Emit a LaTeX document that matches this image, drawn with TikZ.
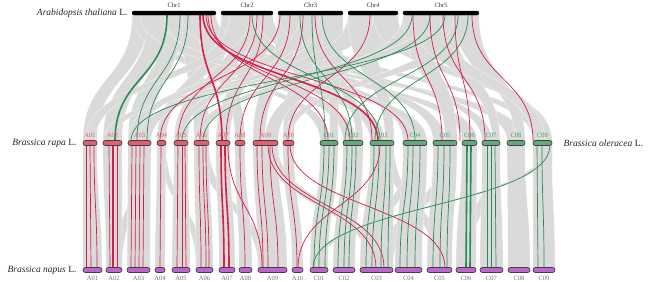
\documentclass[tikz,border=0pt]{standalone}
\usepackage{fontspec}
\setmainfont{Liberation Serif}
\definecolor{myred}{RGB}{214,30,72}
\definecolor{mygreen}{RGB}{40,140,85}
\definecolor{afill}{RGB}{226,96,110}
\definecolor{cfill}{RGB}{100,170,120}
\definecolor{nfill}{RGB}{190,100,205}
\definecolor{alab}{RGB}{225,90,105}
\definecolor{clab}{RGB}{70,155,95}
\definecolor{nlab}{RGB}{110,110,140}
\definecolor{ribgray}{RGB}{218,218,218}
\begin{document}
\begin{tikzpicture}[x=1pt,y=-1pt,
  ribbon/.style={fill=ribgray, draw=white, draw opacity=0.7, line width=0.35},
  redl/.style={draw=myred, line width=0.7},
  redt/.style={draw=myred, line width=1.6},
  grnl/.style={draw=mygreen, line width=0.7},
  grnt/.style={draw=mygreen, line width=1.6},
  topbar/.style={draw=black, fill=black, rounded corners=2},
  abar/.style={draw=black!75, fill=afill, line width=0.7, rounded corners=2.4},
  cbar/.style={draw=black!75, fill=cfill, line width=0.7, rounded corners=2.4},
  nbar/.style={draw=black!75, fill=nfill, line width=0.7, rounded corners=2.4},
  toplab/.style={font=\fontsize{6.5}{7}\selectfont, text=black!80},
  midlab/.style={font=\fontsize{6.5}{7}\selectfont},
  botlab/.style={font=\fontsize{6.5}{7}\selectfont, text=nlab},
  species/.style={font=\fontsize{9.5}{11}\selectfont\itshape, text=black!85}]
\useasboundingbox (0,0) rectangle (650,281);

% ---------- gray ribbons: Arabidopsis -> B. rapa / B. oleracea ----------
\foreach \a/\b/\c/\d in {
 132/148/83/97, 132/148/320/330, 148/165/103/122, 148/165/343/356,
 165/182/128/151, 165/182/370/385, 182/199/194/209, 182/199/462/477,
 199/216/235/245, 199/216/507/525,
 221/238/157/166, 221/238/403/415, 238/256/174/188, 238/256/433/445,
 256/273/216/230, 256/273/482/492,
 278/300/253/265, 278/300/533/545, 300/322/283/294, 300/322/356/363,
 322/343/174/182, 322/343/330/338,
 348/373/140/151, 348/373/385/394, 373/398/265/278, 373/398/545/552,
 403/428/194/202, 403/428/445/457, 428/454/103/112, 428/454/492/500,
 454/479/283/290, 454/479/515/525, 140/160/415/427, 230/250/85/95,
 300/320/128/138, 410/440/533/545}
 \fill[ribbon] (\a,15) .. controls (\a,80) and (\c,76) .. (\c,141)
   -- (\d,141) .. controls (\d,76) and (\b,80) .. (\b,15) -- cycle;

% ---------- gray ribbons: middle -> B. napus ----------
\foreach \a/\b/\c/\d in {
 265/278/370/385, 385/394/435/445, 545/552/310/318, 200/209/258/266,
 445/457/380/393, 140/151/115/122, 490/500/462/470, 160/166/196/203,
 410/420/360/370,
 83/97/83/102, 103/122/106/122, 128/151/127/150, 157/166/155/165,
 174/188/172/190, 194/209/196/213, 216/230/219/235, 235/245/239/252,
 253/278/258/287, 283/294/292/303,
 320/338/310/328, 343/363/333/355, 370/394/360/393, 403/427/395/422,
 433/457/427/452, 462/477/456/476, 482/500/480/503, 507/525/508/530,
 533/552/533/555}
 \fill[ribbon] (\a,145) .. controls (\a,206) and (\c,206) .. (\c,268)
   -- (\d,268) .. controls (\d,206) and (\b,206) .. (\b,145) -- cycle;

% ---------- coloured links: top -> middle ----------
\foreach \a/\c in {206/408, 208/350, 211/328, 250/178, 257/200, 263/226,
 280/160, 290/240, 303/260, 315/372, 370/288, 413/442, 430/460, 443/485,
 455/470, 472/533}
 \draw[redl] (\a,15) .. controls (\a,80) and (\c,76) .. (\c,141);
\foreach \a/\c in {200/222, 203/378}
 \draw[redt] (\a,15) .. controls (\a,80) and (\c,76) .. (\c,141);
\foreach \a/\c in {180/137, 188/147, 252/380, 300/352, 312/325, 322/415,
 412/182, 430/203, 445/131, 458/345, 468/375}
 \draw[grnl] (\a,15) .. controls (\a,80) and (\c,76) .. (\c,141);
\foreach \a/\c in {167/115}
 \draw[grnt] (\a,15) .. controls (\a,80) and (\c,76) .. (\c,141);

% ---------- coloured links: middle -> bottom ----------
\foreach \a/\c in {86/86, 90/91, 94/97, 109/110, 117/117, 132/131, 136/135,
 140/139, 144/143, 161/160, 178/177, 182/182, 185/186, 199/201, 203/206,
 206/209, 240/245, 257/263, 262/268, 270/278, 288/297,
 228/262, 268/376, 272/384, 290/445, 380/298}
 \draw[redl] (\a,145) .. controls (\a,206) and (\c,206) .. (\c,268);
\foreach \a/\c in {113/113, 221/224, 225/229}
 \draw[redt] (\a,145) .. controls (\a,206) and (\c,206) .. (\c,268);
\foreach \a/\c in {324/314, 329/319, 334/325, 347/338, 352/344, 356/349,
 374/366, 379/372, 386/381, 390/388, 408/400, 413/407, 420/415,
 438/433, 444/440, 450/447, 487/487, 491/491, 495/496, 537/538, 542/544,
 550/313}
 \draw[grnl] (\a,145) .. controls (\a,206) and (\c,206) .. (\c,268);
\foreach \a/\c in {467/466, 471/470}
 \draw[grnt] (\a,145) .. controls (\a,206) and (\c,206) .. (\c,268);

% ---------- chromosomes ----------
\foreach \n/\a/\b in {1/132/216, 2/221/273, 3/278/343, 4/348/398, 5/403/479}{
 \draw[topbar] (\a,11) rectangle (\b,15);
 \node[toplab] (chr\n) at ({(\a+\b)/2},5) {Chr\n};
}
\foreach \n/\a/\b in {01/83/97, 02/103/122, 03/128/151, 04/157/166, 05/174/188,
 06/194/209, 07/216/230, 08/235/245, 09/253/278, 10/283/294}{
 \draw[abar] (\a,140.5) rectangle (\b,145.5);
 \node[midlab, text=alab] (ra\n) at ({(\a+\b)/2},135) {A\n};
}
\foreach \n/\a/\b in {01/320/338, 02/343/363, 03/370/394, 04/403/427, 05/433/457,
 06/462/477, 07/482/500, 08/507/525, 09/533/552}{
 \draw[cbar] (\a,140.5) rectangle (\b,145.5);
 \node[midlab, text=clab] (oc\n) at ({(\a+\b)/2},135) {C\n};
}
\foreach \n/\a/\b in {A01/83/102, A02/106/122, A03/127/150, A04/155/165, A05/172/190,
 A06/196/213, A07/219/235, A08/239/252, A09/258/287, A10/292/303,
 C01/310/328, C02/333/355, C03/360/393, C04/395/422, C05/427/452,
 C06/456/476, C07/480/503, C08/508/530, C09/533/555}{
 \draw[nbar] (\a,267.5) rectangle (\b,272.5);
 \node[botlab] (np\n) at ({(\a+\b)/2},278) {\n};
}

% ---------- species names ----------
\node[species, anchor=east] (ath) at (131,13) {Arabidopsis thaliana \upshape L.};
\node[species, anchor=east] (bra) at (80,143) {Brassica rapa \upshape L.};
\node[species, anchor=west] (bol) at (560,143) {Brassica oleracea \upshape L.};
\node[species, anchor=east] (bna) at (80,270) {Brassica napus \upshape L.};
\end{tikzpicture}
\end{document}
